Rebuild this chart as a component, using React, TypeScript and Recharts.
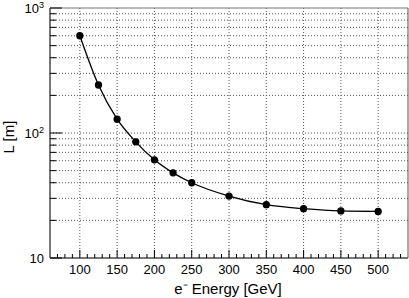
import {
  LineChart,
  Line,
  XAxis,
  YAxis,
  CartesianGrid,
  ReferenceLine,
} from "recharts";

const energies = [100, 125, 150, 175, 200, 225, 250, 300, 350, 400, 450, 500];
const lengths = [600, 242, 129, 85, 61, 48, 40, 31.3, 26.7, 24.8, 23.8, 23.6];

const xTicks = [70, 80, 90, 100, 110, 120, 130, 140, 150, 160, 170, 180, 190, 200, 210, 220, 230, 240, 250, 260, 270, 280, 290, 300, 310, 320, 330, 340, 350, 360, 370, 380, 390, 400, 410, 420, 430, 440, 450, 460, 470, 480, 490, 500, 510, 520, 530];
const xMajor = [100, 150, 200, 250, 300, 350, 400, 450, 500];
const yTicks = [10, 20, 30, 40, 50, 60, 70, 80, 90, 100, 200, 300, 400, 500, 600, 700, 800, 900, 1000];
const yGrid = [20, 30, 40, 50, 60, 70, 80, 90, 100, 200, 300, 400, 500, 600, 700, 800, 900];

const data = energies.map((e, i) => ({ energy: e, length: lengths[i] }));

const font = "Liberation Sans, Arial, sans-serif";

const XTick = ({ x, payload }: any) => {
  const v = payload.value;
  const major = v % 50 === 0;
  return (
    <g>
      <line x1={x} x2={x} y1={258} y2={258 - (major ? 8 : 4)} stroke="#000" strokeWidth={1} />
      {major && v >= 100 && v <= 500 && (
        <text x={x} y={274} textAnchor="middle" fontSize={13} fontFamily={font} fill="#000">
          {v}
        </text>
      )}
    </g>
  );
};

const YTick = ({ y, payload }: any) => {
  const v = payload.value;
  const exp = Math.log10(v);
  const major = Math.abs(exp - Math.round(exp)) < 1e-6;
  return (
    <g>
      <line x1={50} x2={50 + (major ? 12 : 6)} y1={y} y2={y} stroke="#000" strokeWidth={1} />
      {major && (
        <text x={44} y={y + 5} textAnchor="end" fontSize={13} fontFamily={font} fill="#000">
          {v === 10 ? (
            "10"
          ) : (
            <>
              {"10"}
              <tspan dy={-5} fontSize={9}>
                {Math.round(exp)}
              </tspan>
            </>
          )}
        </text>
      )}
    </g>
  );
};

const App = () => {
  return (
    <div style={{ position: "fixed", left: 0, top: 0, background: "#fff" }}>
      <LineChart
        width={409}
        height={298}
        data={data}
        margin={{ top: 8, right: 1, bottom: 10, left: 0 }}
      >
        <CartesianGrid
          stroke="#555"
          strokeDasharray="1 2"
          verticalValues={xMajor}
          horizontalValues={yGrid}
        />
        <XAxis
          dataKey="energy"
          type="number"
          domain={[60, 540]}
          ticks={xTicks}
          interval={0}
          height={30}
          tickLine={false}
          axisLine={{ stroke: "#777", strokeWidth: 2 }}
          tick={<XTick />}
        />
        <YAxis
          scale="log"
          domain={[10, 1000]}
          ticks={yTicks}
          interval={0}
          width={50}
          tickLine={false}
          allowDataOverflow
          axisLine={{ stroke: "#777", strokeWidth: 2 }}
          tick={<YTick />}
        />
        <ReferenceLine y={1000} stroke="#777" strokeWidth={1} />
        <ReferenceLine x={540} stroke="#555" strokeWidth={1} />
        <Line
          type="monotone"
          dataKey="length"
          stroke="#000"
          strokeWidth={1.3}
          dot={{ r: 3, fill: "#000", stroke: "#000" }}
          isAnimationActive={false}
        />
      </LineChart>
      <svg
        width={409}
        height={298}
        style={{ position: "absolute", left: 0, top: 0, pointerEvents: "none" }}
      >
        <text x={228} y={294} textAnchor="middle" fontSize={15} fontFamily={font} fill="#000">
          e⁻ Energy [GeV]
        </text>
        <text
          transform="translate(14,137) rotate(-90)"
          textAnchor="middle"
          fontSize={15}
          fontFamily={font}
          fill="#000"
        >
          L [m]
        </text>
      </svg>
    </div>
  );
};

export default App;
